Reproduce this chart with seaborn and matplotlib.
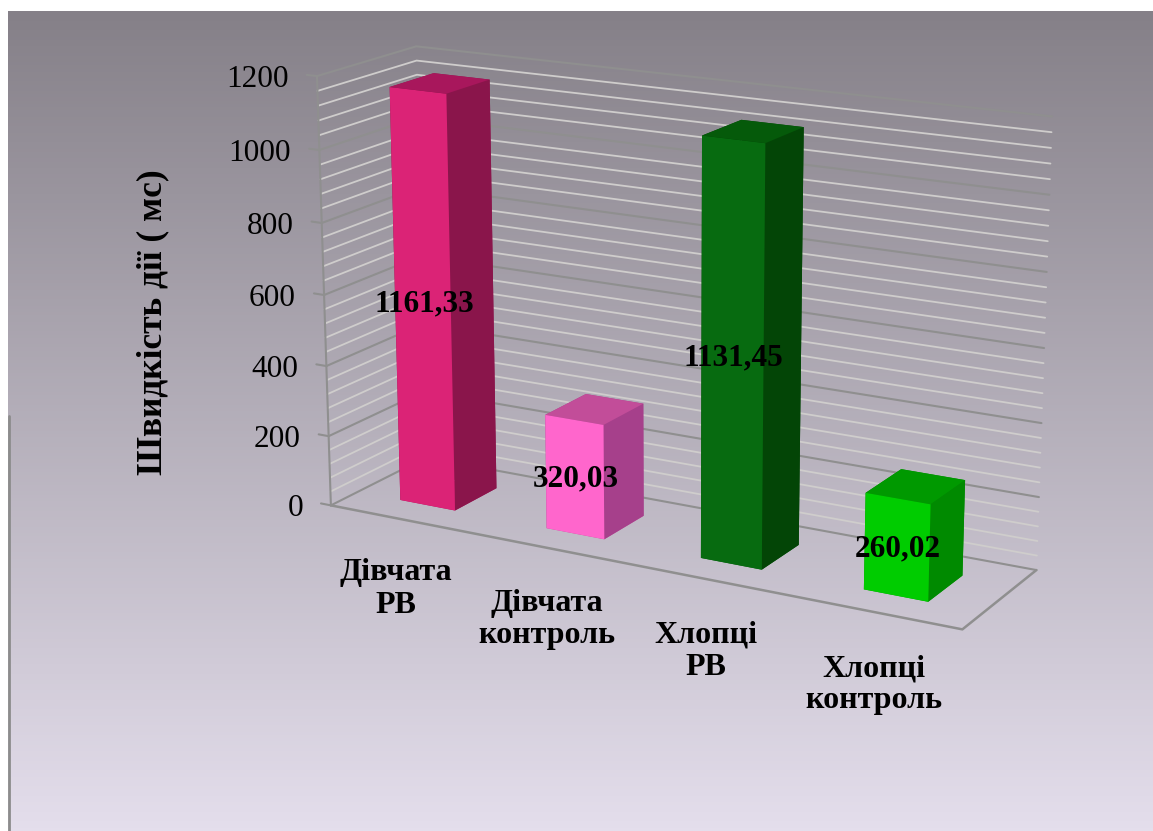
import numpy as np
import matplotlib
matplotlib.use("Agg")
import matplotlib.pyplot as plt
from mpl_toolkits.mplot3d import proj3d
import seaborn as sns

categories = ["Дівчата\nРВ", "Дівчата\nконтроль", "Хлопці\nРВ", "Хлопці\nконтроль"]
speed_ms = [1161.33, 320.03, 1131.45, 260.02]
value_labels = ["1161,33", "320,03", "1131,45", "260,02"]
major_ticks = [0, 200, 400, 600, 800, 1000, 1200]
minor_ticks = [40, 80, 120, 160]
y_title = "Швидкість дії ( мс)"
front_colors = ["#DB2376", "#FF66CC", "#076B10", "#00CC00"]
side_colors = ["#8A154B", "#A6408B", "#034506", "#008A00"]
top_colors = ["#A8175C", "#C24D99", "#055A0A", "#009900"]

W, H = 1153, 831
sns.set_theme(style="white")
plt.rcParams["font.family"] = ["Liberation Serif", "DejaVu Serif"]
plt.rcParams["text.color"] = "black"

fig = plt.figure(figsize=(W / 100, H / 100), dpi=100, facecolor="white")

# vertical gradient panel behind the chart
bg = fig.add_axes([8 / W, 0, 1 - 8 / W, 1 - 11 / H])
gradient = np.linspace(0, 1, 256)[:, None]
cmap = sns.blend_palette(["#858088", "#E4DEEC"], as_cmap=True)
bg.imshow(gradient, aspect="auto", cmap=cmap)
bg.axis("off")
fig.add_artist(plt.Line2D([9 / W, 9 / W], [0, 0.5], color="#8c8c8c", lw=2))

# square 3D axes, larger than the figure so nothing gets clipped
side, cx, cy = 1500, 653, 490
ax = fig.add_axes([(cx - side / 2) / W, (cy - side / 2) / H, side / W, side / H],
                  projection="3d", computed_zorder=False)
ax.patch.set_alpha(0)
ax.set_axis_off()
ax.set_proj_type("persp", focal_length=0.38)
ax.view_init(elev=16, azim=-61)
ax.set_box_aspect((2.0, 0.5, 1.27), zoom=0.566)
ax.set_xlim(0, 4)
ax.set_ylim(0, 1)
ax.set_zlim(0, 1200)
fig.canvas.draw()

MAJOR = "#8f8f8f"
MINOR = "#cfcdcc"


def pixel(x, y, z):
    """Figure fraction of a point in the chart's 3D space."""
    px, py, _ = proj3d.proj_transform(x, y, z, ax.get_proj())
    return fig.transFigure.inverted().transform(ax.transData.transform((px, py)))


def wall_line(z, color, lw):
    ax.plot([0, 0, 4], [0, 1, 1], [z, z, z], color=color, lw=lw, zorder=1)


for base in major_ticks[:-1]:
    for m in minor_ticks:
        wall_line(base + m, MINOR, 1.3)
for z in major_ticks:
    wall_line(z, MAJOR, 1.5)
    ax.plot([0, -0.07], [0, 0], [z, z], color=MAJOR, lw=1.5, zorder=1)
    fx, fy = pixel(-0.07, 0, z)
    fig.text(fx - 18 / W, fy - 5 / H, str(z), fontsize=22.5, ha="right", va="center", zorder=6)

# floor outline and left edge
ax.plot([0, 4, 4, 4], [0, 0, 1, 1], [0, 0, 0, 0], color=MAJOR, lw=1.8, zorder=1)
ax.plot([0, 0], [0, 0], [0, 1200], color=MAJOR, lw=1.5, zorder=1)

bar_w, bar_d = 0.38, 0.45
for i, v in enumerate(speed_ms):
    xc = i + 0.49
    # face order used by bar3d: bottom, top, front, back, left, right
    faces = [top_colors[i], top_colors[i], front_colors[i], side_colors[i], side_colors[i], side_colors[i]]
    ax.bar3d(xc - bar_w / 2, 0.5 - bar_d / 2, 0, bar_w, bar_d, v, color=faces, shade=False,
             edgecolor="none", zorder=3 + i * 0.01)
    fx, fy = pixel(xc, 0.3, v / 2)
    fig.text(fx - 1 / W, fy - 3 / H, value_labels[i], fontsize=22.5, fontweight="bold", ha="center", va="center", zorder=7)
    fx, fy = pixel(i + 0.5, -0.3, 0)
    fig.text(fx + 23 / W, fy - 54 / H, categories[i], fontsize=23, fontweight="bold", ha="center", va="center",
             zorder=7, linespacing=1.15)

fig.text(153 / W, 1 - 322 / H, y_title, rotation=90, fontsize=25.5, fontweight="bold", ha="center", va="center")

fig.savefig("out.png", dpi=100)
